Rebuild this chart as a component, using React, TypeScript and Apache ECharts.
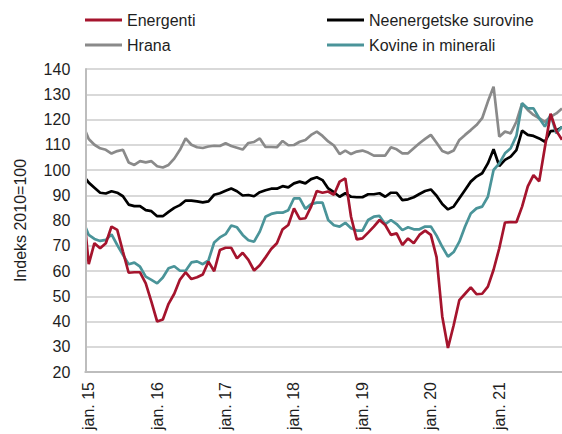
import React, { useEffect, useRef } from "react";
import * as echarts from "echarts";

// Month index: 0 = dec. 2014, 1 = jan. 2015, ..., 84 = dec. 2021
const xTickIndex = [1, 13, 25, 37, 49, 61, 73];
const xTickLabels = ["jan. 15", "jan. 16", "jan. 17", "jan. 18", "jan. 19", "jan. 20", "jan. 21"];

const yTicks = [20, 30, 40, 50, 60, 70, 80, 90, 100, 110, 120, 130, 140];

const seriesNames = ["Energenti", "Neenergetske surovine", "Hrana", "Kovine in minerali"];

const energenti = [
  86.3, 62.7, 71, 69, 71, 77.6, 76.3, 67.7, 59.3, 59.5, 59.5, 55.1, 47.8,
  40, 40.8, 47, 51, 56.6, 59.5, 56.8, 57.5, 58.6, 63.7, 59.9, 68.3,
  69.2, 69.2, 65, 67.2, 64.4, 60.2, 62.3, 65.4, 68.7, 71, 76.5, 78.2,
  84.8, 80.6, 80.9, 85.5, 91.7, 91, 91.5, 90.2, 95.4, 96.7, 81.5, 72.5,
  72.9, 75.2, 77.6, 80.2, 78.2, 74.3, 74.9, 70.3, 72.9, 71, 74.3, 76,
  74.3, 65.5, 42, 29.5, 38.5, 48.5, 51, 53.5, 50.8, 51, 53.8, 60.5,
  69, 79.2, 79.4, 79.3, 85.5, 93.5, 98, 95.5, 109, 122.3, 115.5, 112,
];

const neenergetske = [
  98, 95, 93, 91, 90.7, 91.6, 91, 89.6, 86.3, 85.7, 85.7, 84.1, 83.7,
  81.7, 81.7, 83.4, 85, 86.1, 87.9, 87.9, 87.6, 87.2, 87.6, 90.2, 90.8,
  91.8, 92.7, 91.6, 89.9, 90.1, 89.6, 91.2, 92, 92.6, 92.6, 93.6, 93.1,
  94.7, 95.4, 94.7, 96.4, 97.1, 96, 92.7, 91.2, 89.4, 90.8, 89.4, 89.2,
  89.2, 90.4, 90.4, 90.8, 89.4, 91, 91, 88.1, 88.4, 89.2, 90.5, 91.7,
  92.3, 89.8, 86.5, 84.4, 85.5, 88.8, 92.1, 95.4, 97.4, 98.7, 102.6, 108.2,
  101.6, 104, 105.3, 107.9, 115.6, 113.9, 113.5, 112.5, 111.2, 115.4, 115.6, 117,
];

const hrana = [
  117.7, 112.3, 110, 108.6, 108, 106.5, 107.5, 108, 103, 102, 103.5, 103, 103.5,
  101.5, 101, 102, 104.5, 108, 112.5, 110, 109, 108.7, 109.3, 109.6, 109.5,
  110.6, 109.5, 108.8, 108.1, 110.7, 111.1, 112.5, 109.1, 109.1, 109, 111.5, 109.8,
  109.9, 111.2, 111.9, 113.9, 115.2, 113.5, 111.3, 109.7, 106.3, 107.7, 106.3, 107.3,
  107.7, 106.9, 105.7, 105.7, 105.7, 109, 108.2, 106.6, 106.6, 108.6, 110.6, 112.3,
  113.9, 110.8, 107.5, 106.6, 107.7, 111.9, 113.9, 115.8, 117.8, 120.5, 127.1, 133,
  113.2, 115.2, 114.5, 119.1, 126.4, 123.8, 121.8, 120.5, 119.1, 121.1, 122.4, 124.4,
];

const kovine = [
  79.8, 74.3, 72.7, 71.9, 72.3, 74.5, 70.3, 66.4, 62.7, 63.3, 61.7, 57.8, 56.5,
  55.1, 57.4, 61.1, 61.9, 60.1, 60.1, 63.4, 63.8, 62.7, 64.2, 71.3, 73.3,
  74.6, 78, 77.3, 74.3, 72.2, 71.6, 75.6, 81.5, 82.6, 83.1, 83.1, 84.1,
  88.8, 88.8, 84.6, 86.5, 87.1, 87.1, 80.2, 78.1, 77.6, 79.1, 76.9, 76,
  76, 80.2, 81.5, 81.8, 78.5, 80.2, 78.6, 76.2, 77.3, 76.5, 76.5, 77.6,
  77.6, 74, 69.6, 65.7, 67.5, 71.6, 77.6, 82.8, 84.8, 85.5, 89.4, 100,
  102.6, 106.6, 108.6, 113.5, 126.4, 124.4, 124.4, 120.5, 117.2, 121.8, 114.5, 117.2,
];

const colors: Record<string, string> = {
  Energenti: "#a5142d",
  "Neenergetske surovine": "#000000",
  Hrana: "#8a8a8a",
  "Kovine in minerali": "#4a9499",
};

const FONT = "'Liberation Sans', Arial, sans-serif";
const TEXT = "#1e1e1e";
const AXIS_GREY = "#bdbdbd";

const toPoints = (arr: number[]) => arr.map((v, i) => [i, v]);

export default function App() {
  const ref = useRef<HTMLDivElement>(null);

  useEffect(() => {
    if (!ref.current) return;
    const chart = echarts.init(ref.current, null, { renderer: "svg" });

    const dataByName: Record<string, number[]> = {
      Energenti: energenti,
      "Neenergetske surovine": neenergetske,
      Hrana: hrana,
      "Kovine in minerali": kovine,
    };
    const drawOrder = ["Hrana", "Neenergetske surovine", "Kovine in minerali", "Energenti"];

    const legendCommon = {
      orient: "vertical" as const,
      padding: 0,
      itemGap: 9,
      itemWidth: 37,
      itemHeight: 3,
      icon: "rect",
      textStyle: { fontFamily: FONT, fontSize: 16, color: TEXT, lineHeight: 16 },
    };

    const yMin = yTicks[0];
    const yMax = yTicks[yTicks.length - 1];

    chart.setOption({
      animation: false,
      backgroundColor: "#ffffff",
      legend: [
        { ...legendCommon, left: 85, top: 12, data: [seriesNames[0], seriesNames[2]] },
        { ...legendCommon, left: 327, top: 12, data: [seriesNames[1], seriesNames[3]] },
      ],
      grid: { left: 85.3, right: 0, top: 69, bottom: 62, containLabel: false },
      xAxis: {
        type: "value",
        min: 0.4,
        max: 84,
        splitLine: { show: false },
        axisTick: { show: false },
        axisLine: { show: true, onZero: false, lineStyle: { color: AXIS_GREY, width: 2 } },
        axisLabel: {
          customValues: xTickIndex,
          rotate: 90,
          margin: 10,
          fontFamily: FONT,
          fontSize: 16,
          color: TEXT,
          formatter: (v: number) => {
            const i = xTickIndex.indexOf(Math.round(v));
            return i >= 0 ? xTickLabels[i] : "";
          },
        },
      },
      yAxis: [
        {
          type: "value",
          min: yMin,
          max: yMax,
          interval: 10,
          name: "Indeks 2010=100",
          nameLocation: "middle",
          nameRotate: 90,
          nameGap: 57,
          nameTextStyle: { fontFamily: FONT, fontSize: 16, color: TEXT },
          axisLine: { show: false },
          axisTick: { show: false },
          axisLabel: { margin: 15, fontFamily: FONT, fontSize: 16, color: TEXT },
          splitLine: { show: true, lineStyle: { color: "#cccccc", width: 1.5 } },
        },
        {
          type: "value",
          position: "left",
          min: yMin,
          max: yMax,
          interval: 10,
          z: 101,
          axisLine: { show: true, lineStyle: { color: AXIS_GREY, width: 2 } },
          axisTick: { show: false },
          axisLabel: { show: false },
          splitLine: { show: false },
        },
      ],
      graphic: [
        {
          type: "rect",
          z: 100,
          silent: true,
          shape: { x: 73, y: 55, width: 13.3, height: 315 },
          style: { fill: "#ffffff" },
        },
      ],
      series: drawOrder.map((name) => ({
        name,
        type: "line",
        yAxisIndex: 0,
        data: toPoints(dataByName[name]),
        symbol: "none",
        clip: true,
        lineStyle: { color: colors[name], width: 2.7 },
        itemStyle: { color: colors[name] },
      })),
    });

    return () => chart.dispose();
  }, []);

  return (
    <div
      ref={ref}
      style={{ position: "absolute", left: 0, top: 0, width: 562, height: 434 }}
    />
  );
}
